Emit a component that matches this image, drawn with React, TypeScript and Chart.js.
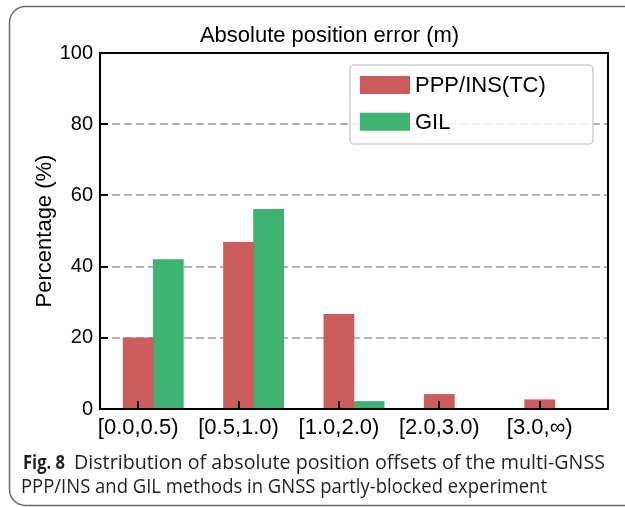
import React, { useEffect, useRef } from 'react';
import { Chart, registerables } from 'chart.js';

Chart.register(...registerables);

// ---- data ----
const categories = ['[0.0,0.5)', '[0.5,1.0)', '[1.0,2.0)', '[2.0,3.0)', '[3.0,∞)'];
const pppValues = [20.0, 46.8, 26.6, 4.1, 2.6];
const gilValues = [42.0, 56.1, 2.1, 0, 0];
const seriesLabels = ['PPP/INS(TC)', 'GIL'];
const yMin = 0;
const yMax = 100;
const yStep = 20;
const chartTitle = 'Absolute position error (m)';
const yTitle = 'Percentage (%)';
const captionBold = 'Fig. 8';
const captionLine1 = 'Distribution of absolute position offsets of the multi-GNSS';
const captionLine2 = 'PPP/INS and GIL methods in GNSS partly-blocked experiment';

// ---- styles / layout ----
const RED = '#cd5c5c';
const GREEN = '#3cb371';
const FONT = '"Liberation Sans", Arial, Helvetica, sans-serif';
const CAP_FONT = '"Open Sans", "Noto Sans", sans-serif';
const BAR_W = 0.3;

const decor = {
  id: 'decor',
  afterDraw(chart: any) {
    const { ctx, chartArea: a, scales } = chart;
    ctx.save();

    // frame
    ctx.strokeStyle = '#000';
    ctx.lineWidth = 2;
    ctx.strokeRect(a.left, a.top, a.right - a.left, a.bottom - a.top);

    // inward ticks
    ctx.beginPath();
    scales.x.ticks.forEach((t: any) => {
      const px = Math.round(scales.x.getPixelForValue(t.value));
      ctx.moveTo(px, a.bottom);
      ctx.lineTo(px, a.bottom - 8);
    });
    scales.y.ticks.forEach((t: any) => {
      const py = Math.round(scales.y.getPixelForValue(t.value));
      ctx.moveTo(a.left, py);
      ctx.lineTo(a.left + 8, py);
    });
    ctx.stroke();

    // title
    ctx.fillStyle = '#000';
    ctx.font = `22px ${FONT}`;
    ctx.textAlign = 'center';
    ctx.textBaseline = 'alphabetic';
    ctx.fillText(chartTitle, 329.5, 42);

    // legend
    const lx = 350, ly = 65, lw = 243, lh = 79;
    ctx.beginPath();
    ctx.roundRect(lx, ly, lw, lh, 4);
    ctx.fillStyle = 'rgba(255,255,255,0.8)';
    ctx.fill();
    ctx.strokeStyle = '#d0d0d0';
    ctx.lineWidth = 1.5;
    ctx.stroke();
    const rows = [85, 121.7];
    chart.data.datasets.forEach((ds: any, i: number) => {
      ctx.fillStyle = ds.backgroundColor;
      ctx.fillRect(360, rows[i] - 9, 50, 18);
      ctx.fillStyle = '#000';
      ctx.font = `22px ${FONT}`;
      ctx.textAlign = 'left';
      ctx.textBaseline = 'middle';
      ctx.fillText(ds.label, 415, rows[i] + 1);
    });

    // caption
    ctx.fillStyle = '#231f20';
    ctx.textAlign = 'left';
    ctx.textBaseline = 'alphabetic';
    ctx.font = `bold 20px ${CAP_FONT}`;
    ctx.fillText(captionBold, 23, 469, 42);
    ctx.font = `20px ${CAP_FONT}`;
    ctx.fillText(captionLine1, 74, 469, 531);
    ctx.fillText(captionLine2, 21, 493, 526);

    // outer rounded border
    ctx.beginPath();
    ctx.roundRect(9.5, 6.5, 700, 499, 16);
    ctx.strokeStyle = '#6b6b6b';
    ctx.lineWidth = 1.5;
    ctx.stroke();

    ctx.restore();
  },
};

export default function App() {
  const ref = useRef<HTMLCanvasElement | null>(null);

  useEffect(() => {
    if (!ref.current) return;
    const chart = new Chart(ref.current, {
      type: 'bar',
      data: {
        datasets: [
          {
            label: seriesLabels[0],
            data: pppValues.map((v, i) => ({ x: i, y: v })),
            backgroundColor: RED,
          },
          {
            label: seriesLabels[1],
            data: gilValues.map((v, i) => ({ x: i + BAR_W, y: v })),
            backgroundColor: GREEN,
          },
        ],
      },
      options: {
        responsive: false,
        animation: false,
        devicePixelRatio: 1,
        layout: { padding: { top: 53, right: 17, left: 0, bottom: 0 } },
        datasets: {
          bar: { grouped: false, categoryPercentage: 1, barPercentage: 1 },
        },
        plugins: {
          legend: { display: false },
          title: { display: false },
          tooltip: { enabled: false },
        },
        scales: {
          x: {
            type: 'linear',
            offset: false,
            min: -0.38,
            max: 4.68,
            afterFit(s: any) {
              s.height = 98;
            },
            ticks: {
              stepSize: 1,
              includeBounds: false,
              autoSkip: false,
              maxRotation: 0,
              padding: 6,
              color: '#000',
              font: { family: FONT, size: 22 },
              callback: (v: any) => categories[v] ?? '',
            },
            grid: { display: false, drawTicks: false },
            border: { display: false },
          },
          y: {
            min: yMin,
            max: yMax,
            z: 1,
            afterFit(s: any) {
              s.width = 100;
            },
            ticks: {
              stepSize: yStep,
              padding: 7,
              color: '#000',
              font: { family: FONT, size: 20 },
            },
            grid: {
              drawTicks: false,
              lineWidth: 2,
              color: (c: any) =>
                c.tick && c.tick.value > yMin && c.tick.value < yMax ? '#b3b3b3' : 'rgba(0,0,0,0)',
            },
            border: { display: false, dash: [8, 4] },
            title: {
              display: true,
              text: yTitle,
              color: '#000',
              font: { family: FONT, size: 22 },
              padding: { top: 32, bottom: 0 },
            },
          },
        },
      } as any,
      plugins: [decor],
    });
    return () => chart.destroy();
  }, []);

  return (
    <div style={{ position: 'fixed', left: 0, top: 0, width: 625, height: 507, background: '#fff' }}>
      <canvas ref={ref} width={625} height={507} style={{ display: 'block' }} />
    </div>
  );
}
